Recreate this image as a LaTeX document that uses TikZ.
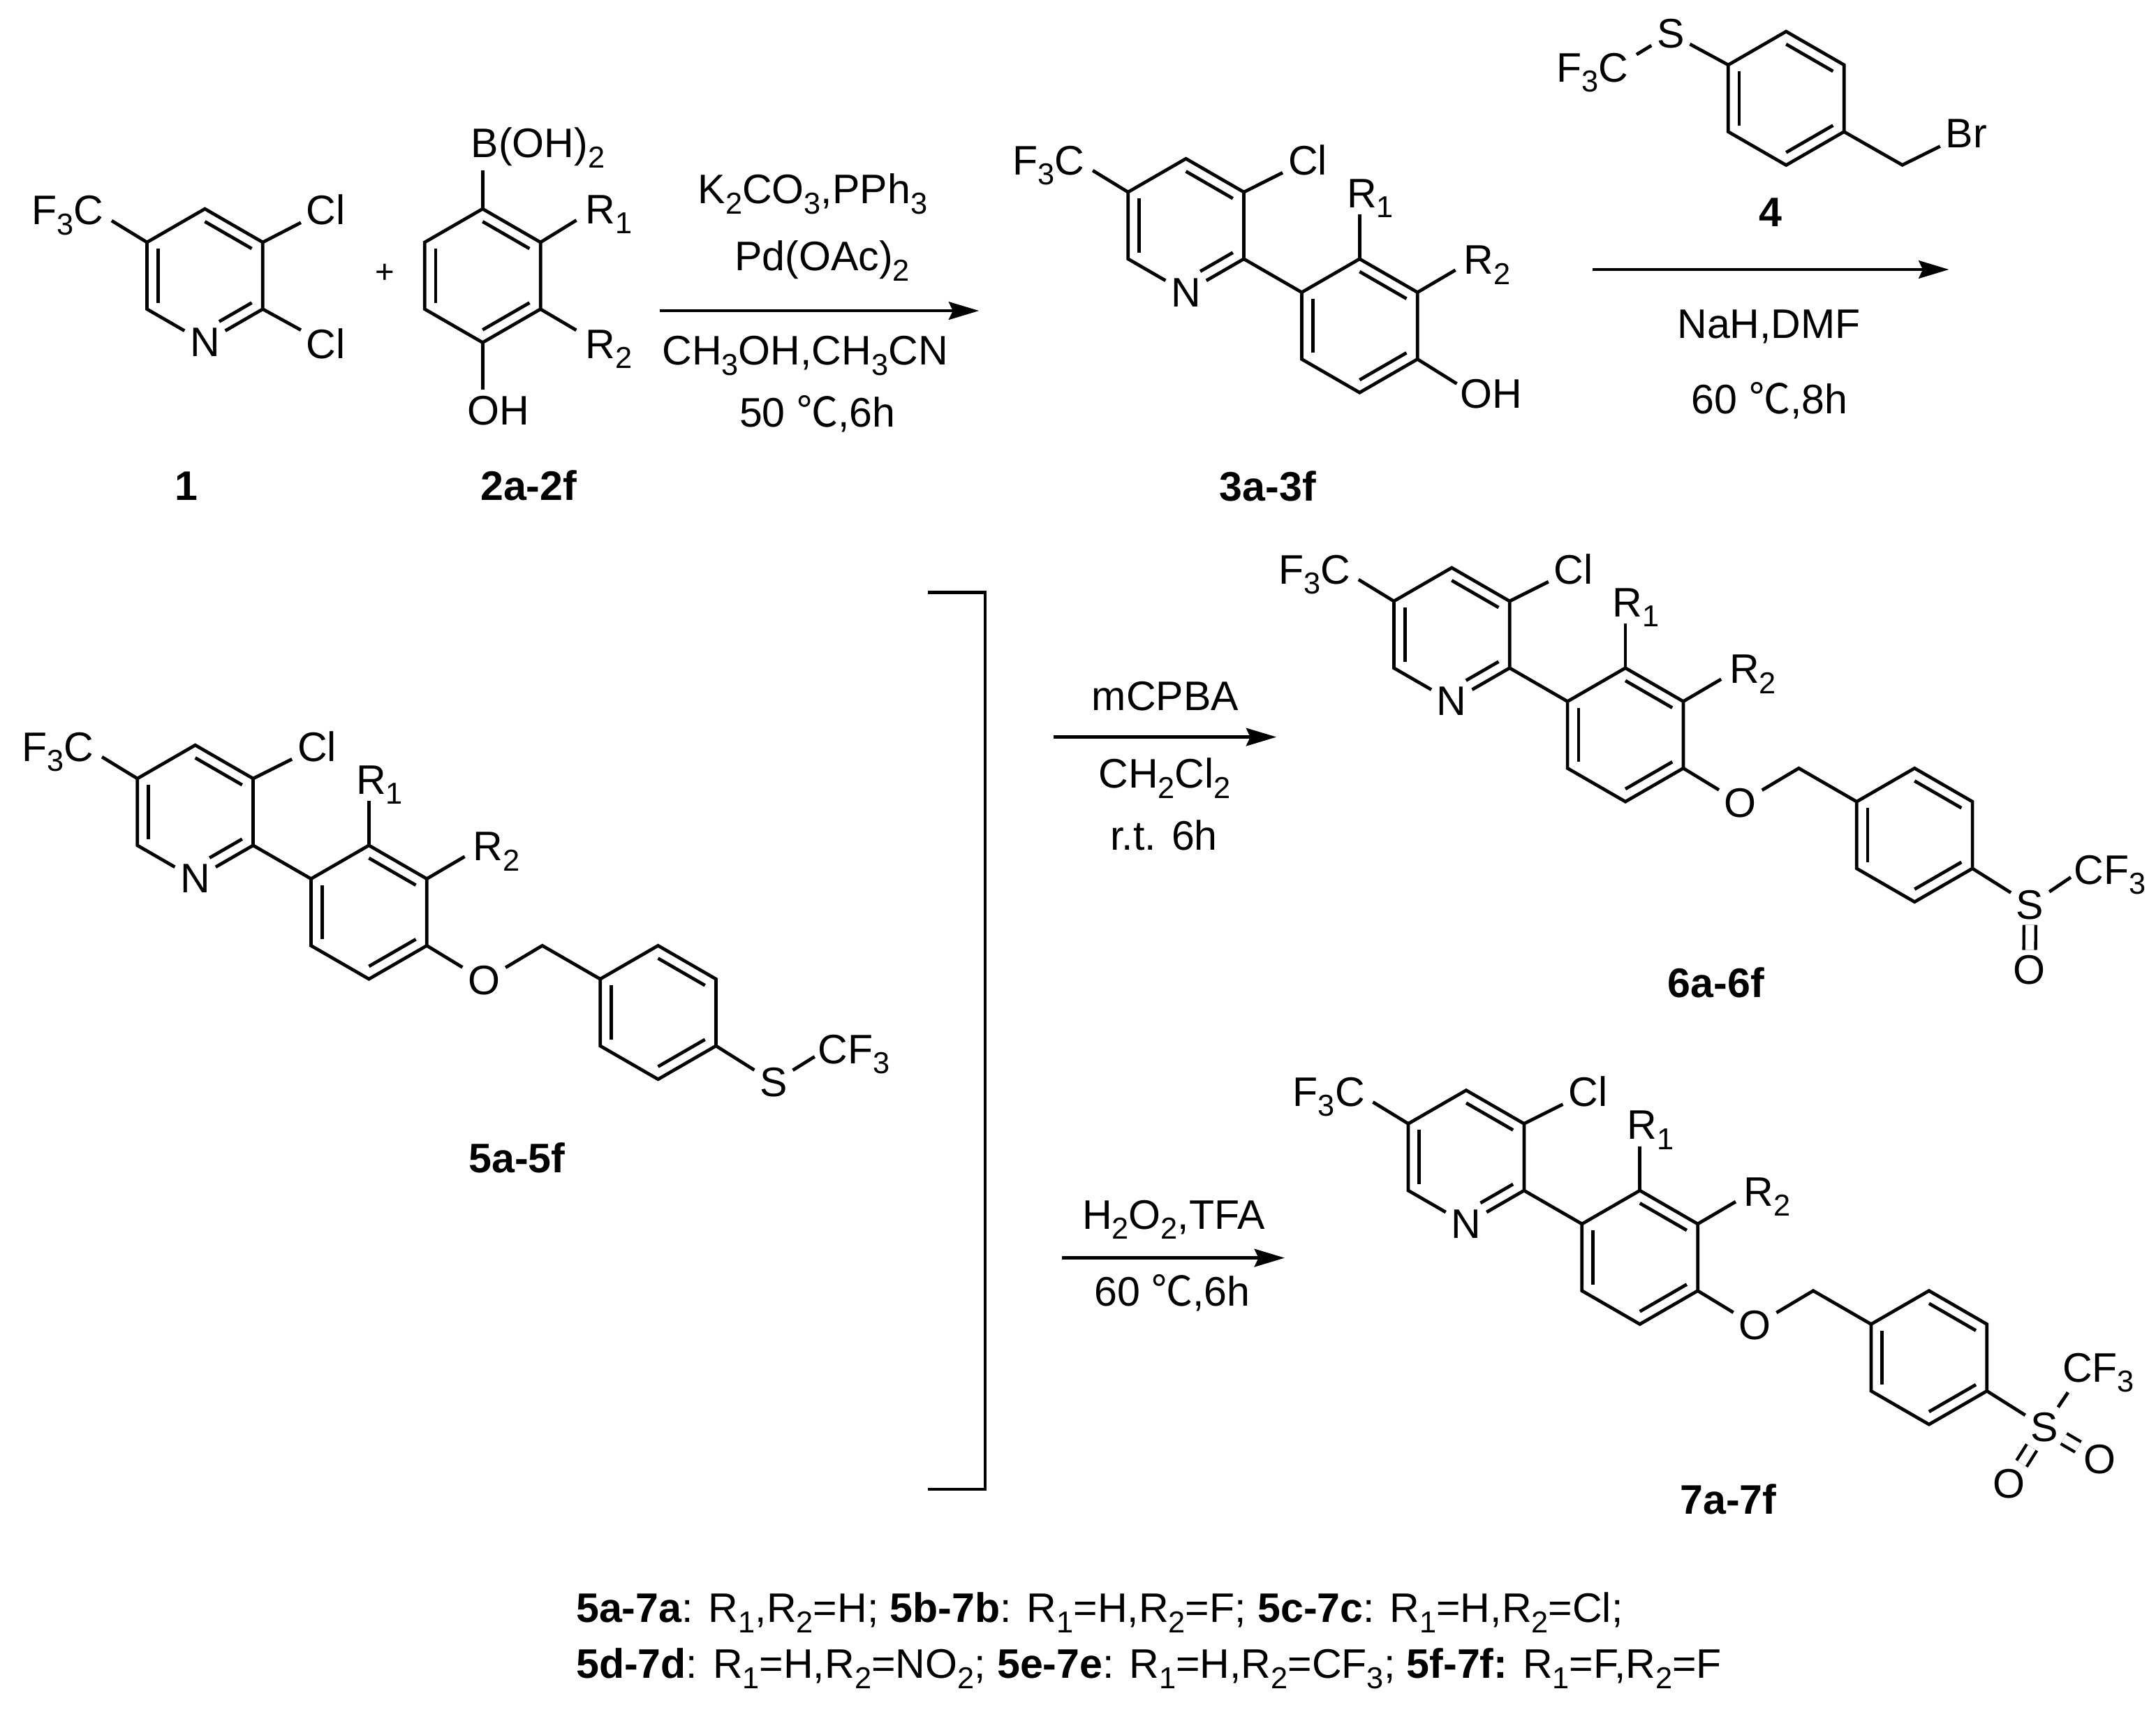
\documentclass[tikz,border=0pt]{standalone}
\usepackage{fontspec}
\setmainfont{Liberation Sans}
\newfontfamily\cjk{Noto Sans CJK SC}
\usetikzlibrary{calc,arrows.meta}
\newcommand{\subn}[1]{\raisebox{-7.4pt}{\fontsize{22}{22}\selectfont #1}}
\newcommand{\ringpts}[3]{
	\coordinate (#1) at (#2,#3);
	\coordinate (#1a) at (#2,#3-48.6);
	\coordinate (#1b) at (#2+42.1,#3-24.3);
	\coordinate (#1c) at (#2+42.1,#3+24.3);
	\coordinate (#1d) at (#2,#3+48.6);
	\coordinate (#1e) at (#2-42.1,#3+24.3);
	\coordinate (#1f) at (#2-42.1,#3-24.3);
}
\newcommand{\benzene}[3]{
	\ringpts{#1}{#2}{#3}
	\draw (#1a) -- (#1b) -- (#1c) -- (#1d) -- (#1e) -- (#1f) -- cycle;
	\draw ($(#1)!.81!(#1a)$) -- ($(#1)!.81!(#1b)$);
	\draw ($(#1)!.81!(#1c)$) -- ($(#1)!.81!(#1d)$);
	\draw ($(#1)!.81!(#1e)$) -- ($(#1)!.81!(#1f)$);
}
\newcommand{\pyridine}[3]{
	\ringpts{#1}{#2}{#3}
	\node[atom] (#1N) at (#1d) {N};
	\draw (#1N) -- (#1e) -- (#1f) -- (#1a) -- (#1b) -- (#1c) -- (#1N);
	\draw ($(#1)!.81!(#1a)$) -- ($(#1)!.81!(#1b)$);
	\draw ($(#1)!.81!(#1e)$) -- ($(#1)!.81!(#1f)$);
	\draw [shorten >=12pt] ($(#1)!.81!(#1c)$) -- ($(#1)!.81!(#1d)$);
}
\newcommand{\biaryl}[3]{
	\begin{scope}[shift={(#2,#3)}]
		\pyridine{#1p}{0}{0}
		\benzene{#1q}{126.3}{72.9}
		\node[atom] (#1cl) at (88.5,-47.5) {Cl};
		\node[lab] (#1f3c) at (-126,-37) {F\subn{3}C};
		\node[lab] (#1r1) at (117,-13) {R\subn{1}};
		\node[lab] (#1r2) at (202,35.5) {R\subn{2}};
		\draw (#1pb) -- (#1cl);
		\draw [shorten >=7pt] (#1pf) -- (#1f3c.east);
		\draw (#1pc) -- (#1qf);
		\draw [shorten >=5pt] (#1qa) -- (#1r1.base -| #1qa);
		\draw [shorten >=7pt] (#1qb) -- (#1r2.west);
	\end{scope}
}
\newcommand{\ether}[3]{
	\begin{scope}[shift={(#2,#3)}]
		\node[atom] (#1o) at (210,122.5) {O};
		\coordinate (#1ch) at (252.4,97.2);
		\benzene{#1r}{336.6}{145.8}
		\node[atom] (#1s) at (420.6,196.5) {S};
		\draw (#1qc) -- (#1o);
		\draw (#1o) -- (#1ch) -- (#1rf);
		\draw (#1rc) -- (#1s);
	\end{scope}
}

\begin{document}
\begin{tikzpicture}[x=1pt,y=-1pt,line width=2.4pt,
	every node/.style = {inner sep=0pt, outer sep=0pt, font=\fontsize{30}{36}\selectfont},
	atom/.style = {outer sep=4pt},
	lab/.style = {anchor=base west},
	txt/.style = {anchor=base},
	cmpd/.style = {anchor=base, font=\fontsize{30}{36}\selectfont\bfseries},
	dbl/.style = {double, double distance=6.4pt, line width=2.2pt},
	rxn/.style = {-{Stealth[length=22pt,width=13pt,inset=3pt]}, line width=2.2pt}]
	\useasboundingbox (0,0) rectangle (1568,1244.6);

	\pyridine{mi}{149}{200.5}
	\node[atom] (micla) at (237,152.5) {Cl};
	\node[atom] (miclb) at (237,250) {Cl};
	\node[lab] (mifc) at (23,163.5) {F\subn{3}C};
	\draw (mib) -- (micla);
	\draw (mic) -- (miclb);
	\draw [shorten >=7pt] (mif) -- (mifc.east);
	\node[cmpd] (lbli) at (135.5,364) {1};
	\node (plus) at (280,199) {\fontsize{24}{24}\selectfont +};

	\benzene{mii}{351}{200.5}
	\node[lab] (boh) at (342.6,114.5) {B(OH)\subn{2}};
	\node[lab] (miirx) at (426,162.6) {R\subn{1}};
	\node[lab] (miiry) at (426,260.6) {R\subn{2}};
	\node[lab] (miioh) at (340,309) {OH};
	\draw [shorten >=9.5pt] (miia) -- (boh.base -| miia);
	\draw [shorten >=8pt] (miib) -- (miirx.west);
	\draw [shorten >=8pt] (miic) -- (miiry.150);
	\draw [shorten >=4.5pt] (miid) -- (miioh.north -| miid);
	\node[cmpd] (lblii) at (384.5,364) {2a-2f};

	\node[txt] (ra) at (591,148) {K\subn{2}CO\subn{3},PPh\subn{3}};
	\node[txt] (rb) at (598,197) {Pd(OAc)\subn{2}};
	\coordinate (rxia) at (480,226);
	\coordinate (rxib) at (712,226);
	\draw[rxn] (rxia) -- (rxib);
	\node[txt] (rc) at (585.5,265.5) {CH\subn{3}OH,CH\subn{3}CN};
	\node[txt] (rd) at (594.5,310.4) {50 {\cjk ℃},6h};

	\biaryl{miii}{862.5}{164}
	\node[lab] (miiioh) at (1062,297) {OH};
	\draw [shorten >=3pt] (miiiqc) -- (miiioh.165);
	\node[cmpd] (lbliii) at (922,364.5) {3a-3f};

	\benzene{miv}{1299}{71.5}
	\node[atom] (mivs) at (1215,24.5) {S};
	\node[lab] (mivfc) at (1132,59.5) {F\subn{3}C};
	\coordinate (mivch) at (1383.5,120);
	\node[atom] (mivbr) at (1430,97) {Br};
	\draw (mivf) -- (mivs);
	\draw [shorten >=7pt] (mivs) -- (mivfc.20);
	\draw (mivc) -- (mivch) -- (mivbr);
	\node[cmpd] (lbliv) at (1287.5,165) {4};

	\coordinate (rxiia) at (1158,196);
	\coordinate (rxiib) at (1417.4,196);
	\draw[rxn] (rxiia) -- (rxiib);
	\node[txt] (re) at (1286.5,246) {NaH,DMF};
	\node[txt] (rf) at (1287,301) {60 {\cjk ℃},8h};

	\biaryl{mv}{142}{590.5}
	\ether{mv}{142}{590.5}
	\node[lab] (mvcf) at (595,773.5) {CF\subn{3}};
	\draw [shorten >=3pt] (mvs) -- (mvcf.west);
	\node[cmpd] (lblv) at (376,852.6) {5a-5f};

	\coordinate (brta) at (675,431);
	\coordinate (brtb) at (716.5,431);
	\coordinate (brbb) at (716.5,1083);
	\coordinate (brba) at (675,1083);
	\draw (brta) -- (brtb) -- (brbb) -- (brba);

	\node[txt] (rg) at (847.4,516.7) {mCPBA};
	\coordinate (rxiiia) at (766,536);
	\coordinate (rxiiib) at (928.3,536);
	\draw[rxn] (rxiiia) -- (rxiiib);
	\node[txt] (rh) at (847,573) {CH\subn{2}Cl\subn{2}};
	\node[txt] (ri) at (846.5,618) {r.t. 6h};

	\biaryl{mvi}{1055.8}{461.5}
	\ether{mvi}{1055.8}{461.5}
	\node[lab] (mvicf) at (1508.5,643) {CF\subn{3}};
	\node[atom] (mvio) at (1476,705.5) {O};
	\draw [shorten >=3pt] (mvis) -- (mvicf.west);
	\draw[dbl] (mvis) -- (mvio);
	\node[cmpd] (lblvi) at (1248,725.3) {6a-6f};

	\node[txt] (rj) at (853.5,893.8) {H\subn{2}O\subn{2},TFA};
	\coordinate (rxiva) at (772.4,914.8);
	\coordinate (rxivb) at (934.3,914.8);
	\draw[rxn] (rxiva) -- (rxivb);
	\node[txt] (rk) at (852.5,949.7) {60 {\cjk ℃},6h};

	\biaryl{mvii}{1066.3}{841.5}
	\ether{mvii}{1066.3}{841.5}
	\node[lab] (mviicf) at (1500,1005) {CF\subn{3}};
	\node[atom] (mviioa) at (1527,1061.5) {O};
	\node[atom] (mviiob) at (1461,1079) {O};
	\draw (mviis) -- ($(mviicf.south west)+(4,0)$);
	\draw[dbl] (mviis) -- (mviioa);
	\draw[dbl] (mviis) -- (mviiob);
	\node[cmpd] (lblvii) at (1257,1101) {7a-7f};

	\node[lab] (notea) at (419,1180) {\textbf{5a-7a}: R\subn{1},R\subn{2}=H; \textbf{5b-7b}: R\subn{1}=H,R\subn{2}=F; \textbf{5c-7c}: R\subn{1}=H,R\subn{2}=Cl;};
	\node[lab] (noteb) at (419,1220.6) {\textbf{5d-7d}: R\subn{1}=H,R\subn{2}=NO\subn{2}; \textbf{5e-7e}: R\subn{1}=H,R\subn{2}=CF\subn{3}; \textbf{5f-7f:} R\subn{1}=F,R\subn{2}=F};
\end{tikzpicture}
\end{document}
